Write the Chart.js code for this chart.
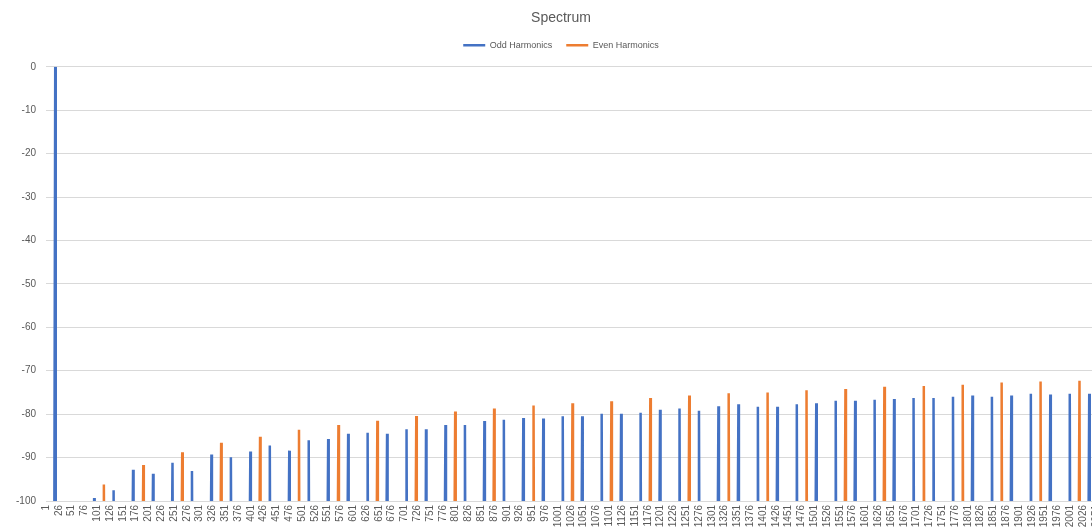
<!DOCTYPE html>
<html>
<head>
<meta charset="utf-8">
<script src="https://cdn.jsdelivr.net/npm/chart.js@4.4.1/dist/chart.umd.min.js"></script>
<style>
  html, body { margin: 0; padding: 0; overflow: hidden; background: #fff; }
  #wrap { position: relative; width: 1122px; height: 531px; }
</style>
</head>
<body>
<div id="wrap"><canvas id="spectrum"></canvas></div>
<script>
// FFT bins on the category axis, a label every 25 bins
const binCount = 2102;
const labelEvery = 25;
// harmonic n sits at bin n * binsPerHarmonic
const binsPerHarmonic = 19.05;
// bins without a harmonic sit under the axis minimum
const belowAxisDb = -120;

// levels in dB for harmonics 1, 3, 5 ... 107 (null = below -100)
const oddHarmonicDb = [
    0, null, -99.3, -97.5, -92.8, -93.7, -91.2, -93.1, -89.3, -89.9,
    -88.6, -87.2, -88.4, -86.0, -85.7, -84.5, -84.3, -84.5, -83.5, -83.5,
    -82.5, -82.5, -81.6, -81.3, -80.9, -81.0, -80.5, -80.5, -79.9, -79.9,
    -79.7, -79.0, -78.7, -79.2, -78.2, -77.7, -78.3, -78.3, -77.7, -77.5,
    -76.9, -76.9, -76.7, -76.5, -76.3, -76.3, -76.0, -75.7, -76.0, -75.7,
    -75.3, -75.5, -75.3, -75.3
];

// levels in dB for harmonics 2, 4, 6 ... 106 (null = below -100)
const evenHarmonicDb = [
    null, null, -96.2, null, -91.7, null, -88.8, null, -86.6, null,
    -85.2, null, -83.6, null, -82.5, null, -81.5, null, -80.4, null,
    -79.4, null, -78.7, null, -78.0, null, -77.5, null, -77.0, null,
    -76.3, null, -75.7, null, -75.2, null, -75.0, null, -74.5, null,
    -74.2, null, -73.7, null, -73.5, null, -73.2, null, -72.7, null,
    -72.5, null, -72.3
];

const yTicks = { min: -100, max: 0, step: 10 };

const bins = [];
for (let i = 1; i <= binCount; i++) bins.push(String(i));

function buildSeries(levels, firstOrder) {
    const out = new Array(binCount).fill(belowAxisDb);
    levels.forEach(function (db, k) {
        if (db === null) return;
        const order = firstOrder + 2 * k;
        const bin = Math.round(order * binsPerHarmonic);
        out[bin - 1] = db;
    });
    return out;
}

// push the plot down a bit below the legend
const legendGap = {
    id: "legendGap",
    beforeInit(chart) {
        const fit = chart.legend.fit;
        chart.legend.fit = function () {
            fit.call(this);
            this.height += 7;
        };
    }
};

Chart.defaults.font.family = "'Liberation Sans', Arial, sans-serif";
Chart.defaults.color = "#595959";

new Chart(document.getElementById("spectrum"), {
    type: "line",
    data: {
        labels: bins,
        datasets: [
            {
                label: "Odd Harmonics",
                data: buildSeries(oddHarmonicDb, 1),
                borderColor: "#4472C4",
                backgroundColor: "#4472C4",
                borderWidth: 2.5,
                borderJoinStyle: "bevel",
                pointRadius: 0,
                tension: 0
            },
            {
                label: "Even Harmonics",
                data: buildSeries(evenHarmonicDb, 2),
                borderColor: "#ED7D31",
                backgroundColor: "#ED7D31",
                borderWidth: 2.5,
                borderJoinStyle: "bevel",
                pointRadius: 0,
                tension: 0
            }
        ]
    },
    plugins: [legendGap],
    options: {
        responsive: true,
        maintainAspectRatio: false,
        animation: false,
        events: [],
        layout: { padding: 0 },
        plugins: {
            title: {
                display: true,
                text: "Spectrum",
                color: "#595959",
                font: { size: 14, weight: "normal" },
                padding: { top: 10, bottom: 0 }
            },
            legend: {
                labels: {
                    usePointStyle: true,
                    pointStyle: "line",
                    pointStyleWidth: 22,
                    boxHeight: 9,
                    padding: 14,
                    color: "#595959",
                    font: { size: 9 }
                }
            },
            tooltip: { enabled: false }
        },
        scales: {
            x: {
                grid: { display: false, drawTicks: false },
                border: { color: "#D9D9D9" },
                ticks: {
                    autoSkip: false,
                    minRotation: 90,
                    maxRotation: 90,
                    padding: 4,
                    color: "#595959",
                    font: { size: 10 },
                    callback: function (v, i) {
                        return i % labelEvery === 0 ? bins[i] : null;
                    }
                },
                afterFit: function (scale) {
                    scale.height = 30;
                    scale.paddingLeft = 0;
                    scale.paddingRight = 0;
                }
            },
            y: {
                min: yTicks.min,
                max: yTicks.max,
                grid: { color: "#D9D9D9", drawTicks: false },
                border: { display: false },
                ticks: {
                    stepSize: yTicks.step,
                    padding: 10,
                    color: "#595959",
                    font: { size: 10 }
                },
                afterFit: function (scale) { scale.width = 46; }
            }
        }
    }
});
</script>
</body>
</html>
